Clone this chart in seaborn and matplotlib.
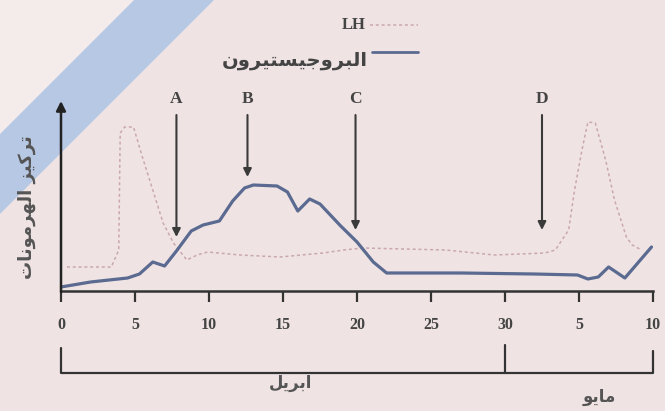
import seaborn as sns
import matplotlib.pyplot as plt
from matplotlib.patches import Polygon
from matplotlib.lines import Line2D

# progesterone (solid) - day of cycle vs level
prog_days = [0, 2, 4.5, 5.3, 6.2, 7.0, 7.8, 8.8, 9.6, 10.7, 11.6, 12.4, 13.0, 14.6, 15.3,
             16.0, 16.8, 17.5, 18.9, 20.0, 21.1, 22.0, 27, 32, 34.9, 35.6, 36.3, 37.0,
             38.1, 39.9]
prog_vals = [4, 9, 13, 17, 29, 25, 40, 60, 66, 70, 90, 103, 106, 105, 99,
             80, 92, 87, 65, 49, 29, 18, 18, 17, 16, 12, 14, 24,
             13, 44]

# LH (dotted)
lh_days = [0.4, 3.4, 3.9, 4.0, 4.3, 4.9, 5.5, 6.2, 6.9, 7.6, 8.5, 9.2, 9.9, 12.1, 14.8,
           17.7, 19.1, 20.4, 26, 29.3, 32.7, 33.4, 34.3, 34.7, 35.2, 35.6, 36.1, 36.8,
           37.4, 38.2, 38.6, 39.1]
lh_vals = [24, 24, 41, 158, 164, 164, 134, 101, 68, 48, 31, 36, 39, 36, 34,
           38, 41, 43, 41, 36, 38, 41, 61, 101, 141, 169, 168, 131,
           91, 54, 46, 42]

tick_days = [0, 5, 10, 15, 20, 25, 30, 35, 40]
tick_labels = ['0', '5', '10', '15', '20', '25', '30', '5', '10']

marker_labels = ['A', 'B', 'C', 'D']
marker_days = [7.8, 12.6, 19.9, 32.5]
marker_tips = [54, 114, 61, 61]

label_prog = 'البروجيستيرون'
label_y = 'تركيز الهرمونات'
month_apr = 'ابريل'
month_may = 'مايو'

# matplotlib does no arabic shaping, so join the letters by hand
FORMS = {
    'ا': (0xFE8D, 0xFE8E, None, None), 'ب': (0xFE8F, 0xFE90, 0xFE91, 0xFE92),
    'ت': (0xFE95, 0xFE96, 0xFE97, 0xFE98), 'ج': (0xFE9D, 0xFE9E, 0xFE9F, 0xFEA0),
    'ر': (0xFEAD, 0xFEAE, None, None), 'ز': (0xFEAF, 0xFEB0, None, None),
    'س': (0xFEB1, 0xFEB2, 0xFEB3, 0xFEB4), 'ك': (0xFED9, 0xFEDA, 0xFEDB, 0xFEDC),
    'ل': (0xFEDD, 0xFEDE, 0xFEDF, 0xFEE0), 'م': (0xFEE1, 0xFEE2, 0xFEE3, 0xFEE4),
    'ن': (0xFEE5, 0xFEE6, 0xFEE7, 0xFEE8), 'ه': (0xFEE9, 0xFEEA, 0xFEEB, 0xFEEC),
    'و': (0xFEED, 0xFEEE, None, None), 'ي': (0xFEF1, 0xFEF2, 0xFEF3, 0xFEF4),
}


def shape(text):
    out = []
    for i, c in enumerate(text):
        if c not in FORMS:
            out.append(c)
            continue
        iso, fin, ini, med = FORMS[c]
        prev = text[i - 1] if i > 0 else ''
        nxt = text[i + 1] if i + 1 < len(text) else ''
        jp = prev in FORMS and FORMS[prev][2] is not None
        jn = nxt in FORMS and ini is not None
        code = med if (jp and jn) else fin if jp else ini if jn else iso
        out.append(chr(code))
    return ''.join(reversed(out))


sns.set_style('white')
W, H = 665, 411
fig = plt.figure(figsize=(6.65, 4.11), dpi=100)
fig.patch.set_facecolor('#efe4e3')


def fxy(x, y):
    return (x / W, 1 - y / H)


fig.patches.append(Polygon([fxy(0, 0), fxy(135, 0), fxy(0, 135)], closed=True,
                           transform=fig.transFigure, color='#f4ecea', zorder=-2))
fig.patches.append(Polygon([fxy(135, 0), fxy(213, 0), fxy(0, 213), fxy(0, 135)], closed=True,
                           transform=fig.transFigure, color='#b7c8e4', zorder=-1))

ax = fig.add_axes([61 / W, 1 - 291 / H, 592 / W, 200 / H])
ax.set_facecolor('none')
ax.set_zorder(2)

LH_COL = '#caa7b2'
PROG_COL = '#5b6a90'
DARK = '#333333'

sns.lineplot(x=lh_days, y=lh_vals, ax=ax, color=LH_COL, lw=1.1, linestyle=(0, (2, 1.8)))
sns.lineplot(x=prog_days, y=prog_vals, ax=ax, color=PROG_COL, lw=2.3)

ax.set_xlim(0, 40)
ax.set_ylim(0, 200)
for s in ['top', 'right', 'left']:
    ax.spines[s].set_visible(False)
ax.spines['bottom'].set_color(DARK)
ax.spines['bottom'].set_linewidth(1.8)
ax.set_yticks([])
ax.set_xticks(tick_days, tick_labels, fontfamily='Liberation Serif', fontsize=11.5,
              fontweight='bold', color='#444444')
ax.tick_params(axis='x', bottom=True, direction='out', length=8, width=1.6, color=DARK, pad=11)

# y axis with arrow head
ax.annotate('', xy=(0, 190), xytext=(0, -1),
            arrowprops=dict(arrowstyle='-|>', color='#222222', lw=1.8, mutation_scale=14,
                            shrinkA=0, shrinkB=0), annotation_clip=False)

# lettered arrows
for lbl, d, tip in zip(marker_labels, marker_days, marker_tips):
    ax.text(d, 192, lbl, ha='center', va='center', fontsize=12.5, fontweight='bold',
            fontfamily='Liberation Serif', color='#444444')
    ax.annotate('', xy=(d, tip), xytext=(d, 176),
                arrowprops=dict(arrowstyle='-|>', color='#3a3a3a', lw=1.5, mutation_scale=12,
                                shrinkA=0, shrinkB=0), annotation_clip=False)

# month bracket under the axis
tr = ax.get_xaxis_transform()
kw = dict(transform=tr, clip_on=False, color=DARK, lw=1.6)
ax.plot([0, 0, 40, 40], [-0.285, -0.41, -0.41, -0.30], **kw)
ax.plot([30, 30], [-0.27, -0.41], **kw)
ax.text(15.5, -0.46, shape(month_apr), transform=tr, ha='center', va='center',
        fontsize=12, fontweight='bold', fontfamily='DejaVu Sans', color='#555555')
ax.text(36.4, -0.53, shape(month_may), transform=tr, ha='center', va='center',
        fontsize=12, fontweight='bold', fontfamily='DejaVu Sans', color='#555555')

# legend
fig.text(366 / W, 1 - 25 / H, 'LH', ha='right', va='center', fontsize=12, fontweight='bold',
         fontfamily='Liberation Serif', color='#444444')
fig.add_artist(Line2D([370 / W, 418 / W], [1 - 25 / H] * 2, color=LH_COL, lw=1.1,
                      linestyle=(0, (2, 1.8))))
fig.text(368 / W, 1 - 60 / H, shape(label_prog), ha='right', va='center', fontsize=14,
         fontweight='bold', fontfamily='DejaVu Sans', color='#444444')
fig.add_artist(Line2D([372 / W, 418 / W], [1 - 52 / H] * 2, color=PROG_COL, lw=2.0))

fig.text(27 / W, 1 - 207 / H, shape(label_y), rotation=90, ha='center', va='center',
         fontsize=13, fontweight='bold', fontfamily='DejaVu Sans', color='#555555')

fig.savefig('out.png', dpi=100, facecolor=fig.get_facecolor())
